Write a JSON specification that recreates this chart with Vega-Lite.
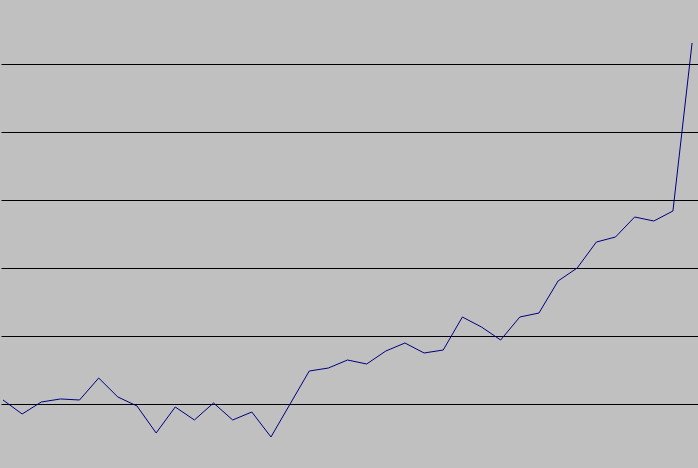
{
  "$schema": "https://vega.github.io/schema/vega-lite/v6.json",
  "autosize": {"type": "fit", "contains": "padding"},
  "width": 698,
  "height": 468,
  "padding": 0,
  "background": "#C0C0C0",
  "config": {"view": {"stroke": null, "fill": "#C0C0C0"}},
  "data": {"values": [
    {"i": 0, "v": 10.59}, {"i": 1, "v": 8.53}, {"i": 2, "v": 10.29}, {"i": 3, "v": 10.74},
    {"i": 4, "v": 10.59}, {"i": 5, "v": 13.82}, {"i": 6, "v": 11.03}, {"i": 7, "v": 9.71},
    {"i": 8, "v": 5.74}, {"i": 9, "v": 9.56}, {"i": 10, "v": 7.65}, {"i": 11, "v": 10.15},
    {"i": 12, "v": 7.65}, {"i": 13, "v": 8.82}, {"i": 14, "v": 5.15}, {"i": 15, "v": 10.0},
    {"i": 16, "v": 14.85}, {"i": 17, "v": 15.29}, {"i": 18, "v": 16.47}, {"i": 19, "v": 15.88},
    {"i": 20, "v": 17.79}, {"i": 21, "v": 18.97}, {"i": 22, "v": 17.5}, {"i": 23, "v": 17.94},
    {"i": 24, "v": 22.79}, {"i": 25, "v": 21.32}, {"i": 26, "v": 19.41}, {"i": 27, "v": 22.79},
    {"i": 28, "v": 23.38}, {"i": 29, "v": 28.09}, {"i": 30, "v": 30.0}, {"i": 31, "v": 33.82},
    {"i": 32, "v": 34.56}, {"i": 33, "v": 37.5}, {"i": 34, "v": 36.91}, {"i": 35, "v": 38.38},
    {"i": 36, "v": 63.09}
  ]},
  "mark": {"type": "line", "color": "#000080", "strokeWidth": 1},
  "encoding": {
    "x": {"field": "i", "type": "quantitative", "scale": {"domain": [-0.104, 36.31], "nice": false, "zero": false}, "axis": null},
    "y": {"field": "v", "type": "quantitative", "scale": {"domain": [0.588, 69.41], "nice": false, "zero": false},
      "axis": {"values": [10, 20, 30, 40, 50, 60], "grid": true, "gridColor": "#000000", "gridOpacity": 1, "gridWidth": 1, "domain": false, "ticks": false, "labels": false, "title": null}}
  }
}
